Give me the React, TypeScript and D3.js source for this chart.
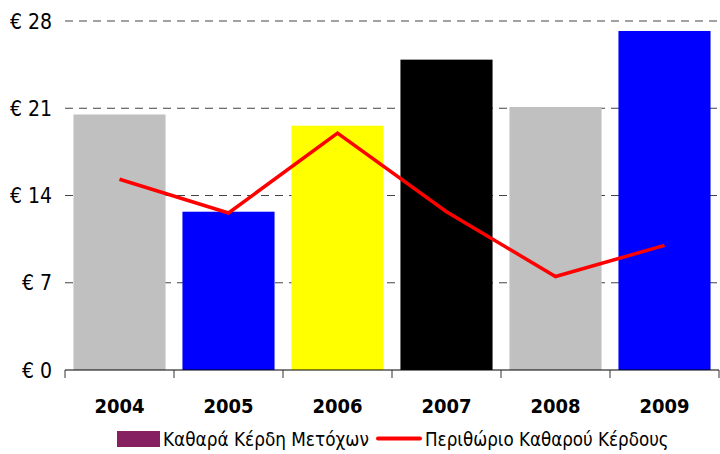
import React from 'react';
import { scaleBand, scaleLinear, line } from 'd3';

const years = ['2004', '2005', '2006', '2007', '2008', '2009'];
const netProfit = [20.5, 12.7, 19.6, 24.9, 21.1, 27.2];
const margin = [15.3, 12.6, 19.0, 12.7, 7.5, 10.0];
const barColors = ['#c0c0c0', '#0000ff', '#ffff00', '#000000', '#c0c0c0', '#0000ff'];
const yTicks = [0, 7, 14, 21, 28];
const legendLabels = ['Καθαρά Κέρδη Μετόχων', 'Περιθώριο Καθαρού Κέρδους'];

const dim = { width: 720, height: 454, left: 65, right: 719, top: 21, bottom: 370 };
const font = '"DejaVu Sans Condensed", "DejaVu Sans", sans-serif';

const App = () => {
  const x = scaleBand<string>().domain(years).range([dim.left, dim.right]);
  const y = scaleLinear().domain([0, 28]).range([dim.bottom, dim.top]);
  const barW = x.bandwidth() * 0.845;
  const cx = (d: string) => (x(d) as number) + x.bandwidth() / 2;

  const path = line<number>()
    .x((_, i) => cx(years[i]))
    .y((v) => y(v))(margin);

  return (
    <svg
      width={dim.width}
      height={dim.height}
      style={{ position: 'absolute', left: 0, top: 0, background: '#fff' }}
      fontFamily={font}
    >
      {yTicks
        .filter((t) => t > 0)
        .map((t) => (
          <line
            key={t}
            x1={dim.left}
            x2={dim.right}
            y1={y(t)}
            y2={y(t)}
            stroke="#444"
            strokeWidth={1.2}
            strokeDasharray="8,6"
          />
        ))}
      {years.map((d, i) => (
        <rect
          key={d}
          x={cx(d) - barW / 2}
          y={y(netProfit[i])}
          width={barW}
          height={y(0) - y(netProfit[i])}
          fill={barColors[i]}
        />
      ))}
      <path d={path || ''} fill="none" stroke="#ff0000" strokeWidth={3.5} strokeLinejoin="miter" />
      <line x1={dim.left} x2={dim.right} y1={y(0)} y2={y(0)} stroke="#000" strokeWidth={1.2} />
      {years.map((d) => (
        <line key={d} x1={x(d)} x2={x(d)} y1={y(0)} y2={y(0) + 8} stroke="#333" />
      ))}
      <line x1={dim.right} x2={dim.right} y1={y(0)} y2={y(0) + 8} stroke="#333" />
      {yTicks.map((t) => (
        <text key={t} x={52} y={y(t)} dy="0.36em" textAnchor="end" fontSize={21} fill="#000">
          {`€ ${t}`}
        </text>
      ))}
      {years.map((d) => (
        <text key={d} x={cx(d)} y={413} textAnchor="middle" fontSize={20} fontWeight="bold" fill="#000">
          {d}
        </text>
      ))}
      <rect x={117} y={431} width={43} height={16} fill="#862060" />
      <text x={163} y={446} fontSize={18.8} fill="#000">{legendLabels[0]}</text>
      <line x1={378} x2={420} y1={438.5} y2={438.5} stroke="#ff0000" strokeWidth={4} strokeLinecap="round" />
      <text x={425} y={446} fontSize={18.6} fill="#000">{legendLabels[1]}</text>
    </svg>
  );
};

export default App;
